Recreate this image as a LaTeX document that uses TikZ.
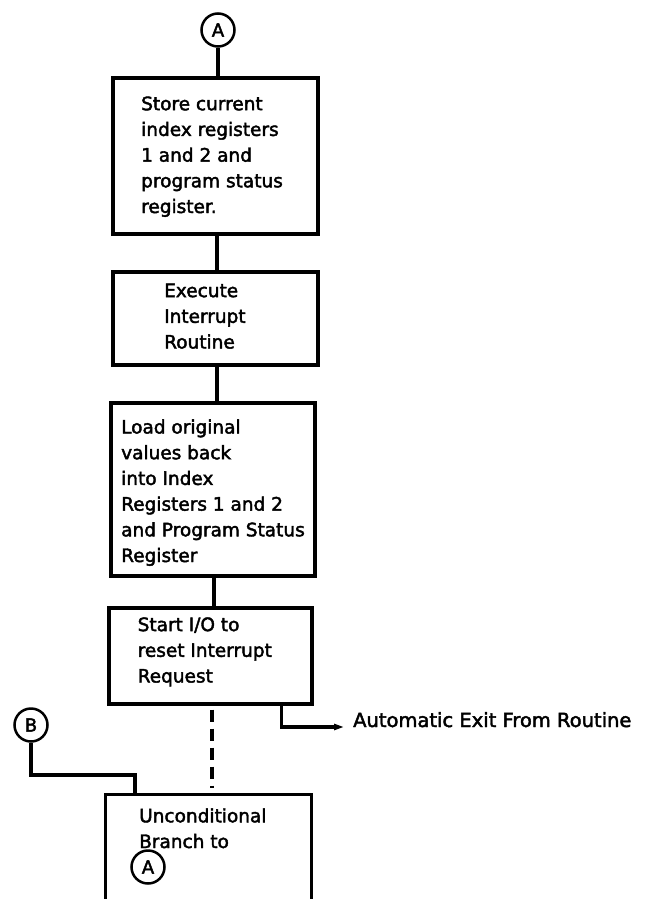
\documentclass[tikz,border=0pt]{standalone}
\usepackage{fontspec}
\setmainfont{DejaVu Sans}[FakeBold=2.2]
\usetikzlibrary{arrows.meta}
\begin{document}
\begin{tikzpicture}[x=1pt,y=-1pt,
  ln/.style={line width=3.1pt},
  box/.style={draw, line width=3.1pt, rectangle, inner sep=0pt},
  conn/.style={draw, circle, line width=2.5pt, inner sep=0pt, minimum size=33pt, font=\fontsize{18}{20}\selectfont},
  txt/.style={anchor=base west, inner sep=0pt, align=left, font=\fontsize{18.5}{25.7}\selectfont},
  lbl/.style={anchor=base west, inner sep=0pt, font=\fontsize{19.5}{25.7}\selectfont}
]
\useasboundingbox[fill=white] (0,0) rectangle (650,899);

% connectors (circles)
\node[conn] (cA) at (218,30) {A};
\node[conn] (cB) at (31,725) {B};

% boxes
\node[box, minimum width=205pt, minimum height=156pt] (b1) at (215.5,156) {};
\node[box, minimum width=205pt, minimum height=93pt] (b2) at (215.5,318.5) {};
\node[box, minimum width=204pt, minimum height=173pt] (b3) at (213,489.5) {};
\node[box, minimum width=203pt, minimum height=96pt] (b4) at (210.5,656) {};
\node[minimum width=205pt, minimum height=104pt, inner sep=0pt] (b5) at (208.5,847) {};
\draw[ln] (b5.south west) -- (b5.north west) -- (b5.north east) -- (b5.south east);

% texts (anchored at the baseline of their last line)
\node[txt] (t1) at (141,213) {Store current\\index registers\\1 and 2 and\\program status\\register.};
\node[txt] (t2) at (164,348.5) {Execute\\Interrupt\\Routine};
\node[txt] (t3) at (121,562) {Load original\\values back\\into Index\\Registers 1 and 2\\and Program Status\\Register};
\node[txt] (t4) at (137.5,682.5) {Start I/O to\\reset Interrupt\\Request};
\node[txt] (t5) at (139,848) {Unconditional\\Branch to};
\node[conn] (cA2) at (148,867) {A};
\node[lbl] (ex) at (353,727) {Automatic Exit From Routine};

% connectors
\draw[ln] (cA.south) -- (cA.south |- b1.north);
\draw[ln] ([xshift=1.5pt]b1.south) -- ([xshift=1.5pt]b1.south |- b2.north);
\draw[ln] ([xshift=1.5pt]b2.south) -- ([xshift=1.5pt]b2.south |- b3.north);
\draw[ln] ([xshift=1pt]b3.south) -- ([xshift=1pt]b3.south |- b4.north);
\draw[ln, dash pattern=on 12pt off 7pt, shorten <=4pt, shorten >=7pt] ([xshift=1.5pt]b4.south) -- ([xshift=1.5pt]b4.south |- b5.north);
\coordinate (exs) at ([xshift=-32pt]b4.south east);
\draw[ln, -{Triangle[length=10pt,width=6pt]}] (exs) |- ([xshift=-9pt]ex.base west);
\coordinate (bj) at (135,775);
\draw[ln] (cB.south) |- (bj) -- (bj |- b5.north);
\end{tikzpicture}
\end{document}
